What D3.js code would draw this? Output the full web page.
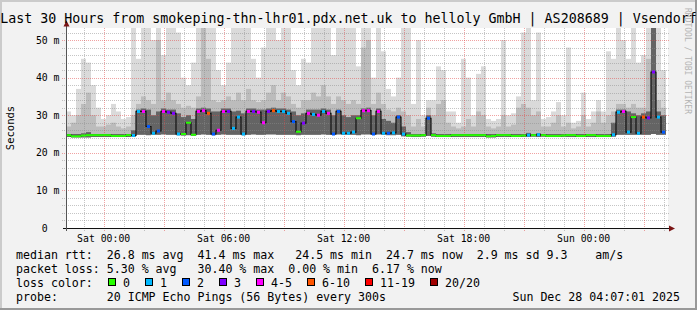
<!DOCTYPE html>
<html><head><meta charset="utf-8">
<script src="https://cdn.jsdelivr.net/npm/d3@7"></script>
<style>
html,body{margin:0;padding:0;background:#f2f2f2;}
svg{display:block;}
text{font-family:"DejaVu Sans Mono",monospace;white-space:pre;}
</style></head><body>
<svg id="c" width="697" height="310"></svg>
<script>
const title = "Last 30 Hours from smokeping-thn-lhr01.pdx.net.uk to helloly GmbH | AS208689 | Vsendorf";
const yLabel = "Seconds";
const watermark = "RRDTOOL / TOBI OETIKER";
const yTicks = [0, 10, 20, 30, 40, 50];
const yTickLabels = ["0  ", "10 m", "20 m", "30 m", "40 m", "50 m"];
const xTickLabels = ["Sat 00:00", "Sat 06:00", "Sat 12:00", "Sat 18:00", "Sun 00:00"];
const endTime = "2025-12-28T04:07:01Z";
const spanHours = 30;
const binMinutes = 15;
const yMax = 53.2;

// median rtt (ms) per 15-minute bin
const median = [
 24.7,24.4,24.4,24.6,24.7,24.7,24.7,24.7,24.7,24.5,24.5,24.5,24.7,24.6,
 31,31,27,25.2,25.8,31,30.8,30.5,25,25,
 28,24.8,31,31.2,30.5,25,26,31,31,26.5,
 29.5,25,31,31,30.8,28,31,31.2,31,31,
 30.5,28.3,25.6,27.9,30.5,30.2,30,31,30.5,25,
 31,25.2,25.2,25.5,29.2,31.2,31.2,25,31,25.2,
 25.2,25.3,29.5,25,24.6,24.6,24.6,24.7,29.2,
 24.7,24.5,24.5,24.5,24.7,24.7,24.7,24.7,24.7,24.7,
 24.7,24.4,24.5,24.7,24.7,24.7,24.5,24.5,24.6,24.7,
 24.7,24.8,24.7,24.5,24.5,24.5,24.6,24.7,24.7,24.5,
 24.5,24.7,24.7,24.5,24.5,24.5,
 24.8,30.8,31,25.5,29.5,25.2,29.5,29.3,41.5,29.5,25.5
];
// lost pings (of 20) per bin
const loss = [
 0,0,0,0,0,0,0,0,0,0,0,0,0,1,
 1,4,2,1,2,4,3,3,1,0,
 0,0,4,5,6,2,4,4,3,1,
 1,1,4,3,4,5,3,7,1,1,
 1,2,0,3,4,1,4,1,4,2,
 2,1,1,1,0,4,5,2,4,1,
 2,1,2,1,0,0,0,0,2,
 0,0,0,0,0,0,0,0,0,0,
 0,0,0,0,0,0,0,0,0,1,
 0,1,0,0,0,0,0,0,0,0,
 0,0,0,0,0,0,
 1,1,4,1,0,1,6,3,3,1,2
];
// smoke: lowest ping, upper edge of dark, mid and light bands (ms)
const smokeMin = [
 24.2,24.1,24.1,24.1,24.1,24.2,24.2,24.2,24.2,24.2,24.2,24.2,24.2,24.3,
 24.8,24.8,24.7,24.8,24.8,24.9,24.8,24.8,24.7,24.6,
 24.7,24.6,24.8,24.9,24.8,24.7,24.8,24.9,24.8,24.8,
 24.8,24.7,24.8,24.9,24.8,24.8,24.9,24.9,24.8,24.8,
 24.8,24.8,24.7,24.8,24.8,24.8,24.8,24.9,24.8,24.8,
 24.9,24.8,24.8,24.8,24.7,24.9,24.9,24.8,24.9,24.8,
 24.7,24.7,24.8,24.4,24.3,24.2,24.2,24.3,24.5,
 24.3,24.2,24.2,24.2,24.2,24.2,24.2,24.2,24.2,24.2,
 24.2,24.1,24.1,24.2,24.2,24.2,24.2,24.2,24.2,24.2,
 24.3,24.2,24.3,24.2,24.2,24.2,24.2,24.2,24.2,24.2,
 24.2,24.2,24.2,24.2,24.2,24.2,
 24.3,24.8,24.8,24.8,24.8,24.8,24.8,24.8,25,24.8,24.8
];
const smokeQ3 = [
 25,25,25,25.2,25.5,25,25,25,25,25,25,25,25,26,
 31.5,31.8,31.5,30,31,31.8,31.5,31.5,30.5,29.5,
 30,29,31.8,32,31.8,31,31,31.8,31.8,31,
 31.2,30.5,31.8,31.8,31.5,31.5,31.8,32,31.8,31.8,
 31.5,31,30,30.5,31.5,31.5,31.5,31.8,31.5,30,
 31.5,30,29.5,30,30,31.8,32,30,31.8,29,
 28.5,28,30,27,25.5,25,25,25,30,
 25.2,25,25,25,25,25,25,25,25,25,
 25,25,25,25,25,25,25,25,25,25.3,
 25,25.2,25,25,25,25,25,25,25,25,
 25,25,25,25,25,25,
 28,31.5,31.5,31,30.5,30,30.5,31,53.2,31,30
];
const smokeP90 = [
 27,28,30,33,36,30,27,27,27.5,28,27,26.5,27,30,
 33,35,34,33,50,34,36,34,33,32,
 32.5,32,35,53.2,45,34,33.5,34,35,34,
 36,34,37,34,33.5,34,36,38,34,36,
 35,33,32,34,34,36,35,38,35,33,
 35,34,33,34,33,48,50,33,36,33,
 31.5,31,32,31,30,27,29,27,32,
 30,33,34,28,27,26.5,27,29,27,31,
 30,27,26.5,27,30,27,27.5,32,33,32,
 30,31,27,27,28,30,27,28,26.5,27,
 30,27,28,31,28,30,
 31,33,33,32,33,32,32,45,53.2,34,32
];
const smokeMax = [
 31,30,37,45,44,38,32,29,30,33,31,29,29.5,53.2,
 45,53.2,53.2,50,53.2,46,53.2,53.2,52,40,
 38,44,53.2,53.2,53.2,53.2,42,38,44,53.2,
 53.2,53.2,53.2,45,40,48,53.2,53.2,50,53.2,
 53.2,42,38,45,44,53.2,53.2,53.2,53.2,46,
 53.2,53.2,53.2,53.2,43,53.2,53.2,40,53.2,47,
 37,35,40,53.2,53.2,33,50,30,34,
 34,43,42,31,31,28,45,40,30,41,
 43,29,28.5,29,50,30,30.5,35,52,53.2,
 34,52,29,29.5,31,33.5,30,48,28,28.5,
 36,29,31,34,31,47,
 45,53.2,50,45,53.2,44,46,53.2,53.2,53.2,42
];
const lossClasses = ["0", "1", "2", "3", "4-5", "6-10", "11-19", "20/20"];
const lossUpper   = [0, 1, 2, 3, 5, 10, 19, 20];
const lossColors  = ["#26ff00", "#00b8ff", "#0059ff", "#7e00ff", "#ff00ff", "#ff5500", "#ff0000", "#a00000"];
const legendRows = [
 "median rtt:  26.8 ms avg  41.4 ms max   24.5 ms min  24.7 ms now  2.9 ms sd 9.3    am/s",
 "packet loss: 5.30 % avg   30.40 % max  0.00 % min  6.17 % now",
 "loss color:",
 "probe:       20 ICMP Echo Pings (56 Bytes) every 300s"
];
const stampText = "Sun Dec 28 04:07:01 2025";

const W = 697, H = 310;
const svg = d3.select("#c");
svg.append("rect").attr("width", W).attr("height", H).attr("fill", "#f2f2f2");
svg.append("rect").attr("x", 0).attr("y", 0).attr("width", W).attr("height", 2).attr("fill", "#cbcbcb");
svg.append("rect").attr("x", 0).attr("y", 0).attr("width", 2).attr("height", H).attr("fill", "#cbcbcb");
svg.append("rect").attr("x", 0).attr("y", H - 2).attr("width", W).attr("height", 2).attr("fill", "#999");
svg.append("rect").attr("x", W - 2).attr("y", 0).attr("width", 2).attr("height", H).attr("fill", "#999");

const t1 = new Date(endTime);
const t0 = new Date(+t1 - spanHours * 3600e3);
const x = d3.scaleUtc().domain([t0, t1]).range([66, 666]);
const y = d3.scaleLinear().domain([0, yMax]).range([228, 28]);

svg.append("rect").attr("x", 66).attr("y", 28).attr("width", 602).attr("height", 200).attr("fill", "#fff");

const bins = median.map((m, i) => {
  const a = new Date(+t0 + i * binMinutes * 60e3);
  const b = new Date(+a + binMinutes * 60e3);
  return {i, a, b, med: m, loss: loss[i], mn: smokeMin[i], q3: smokeQ3[i], p90: smokeP90[i], mx: smokeMax[i]};
});

const plot = svg.append("g");
const bands = [["mx", "#dadada"], ["p90", "#bcbcbc"], ["q3", "#646464"]];
bands.forEach(([k, col]) => {
  plot.append("g").selectAll("rect").data(bins).join("rect")
    .attr("x", d => x(d.a)).attr("width", d => Math.min(x(d.b), 667) - x(d.a))
    .attr("y", d => y(d[k])).attr("height", d => Math.max(0, y(d.mn) - y(d[k])))
    .attr("fill", col);
});

// grid
const grid = svg.append("g");
const minorY = d3.range(2, yMax, 2).filter(v => v % 10 !== 0);
grid.selectAll(".hm").data(minorY).join("line")
  .attr("x1", 62).attr("x2", 669).attr("y1", d => Math.round(y(d)) + 0.5).attr("y2", d => Math.round(y(d)) + 0.5)
  .attr("stroke", "rgba(140,140,140,0.5)").attr("stroke-dasharray", "1,1");
const hours = d3.utcHour.every(1).range(t0, t1);
grid.selectAll(".vm").data(hours.filter(h => h.getUTCHours() % 3 !== 0)).join("line")
  .attr("x1", d => Math.round(x(d)) + 0.5).attr("x2", d => Math.round(x(d)) + 0.5).attr("y1", 28).attr("y2", 231)
  .attr("stroke", "rgba(140,140,140,0.5)").attr("stroke-dasharray", "1,1");
grid.selectAll(".hM").data(yTicks.filter(v => v > 0)).join("line")
  .attr("x1", 62).attr("x2", 669).attr("y1", d => Math.round(y(d)) + 0.5).attr("y2", d => Math.round(y(d)) + 0.5)
  .attr("stroke", "rgba(225,70,70,0.5)").attr("stroke-dasharray", "1,1");
grid.selectAll(".vM").data(hours.filter(h => h.getUTCHours() % 3 === 0)).join("line")
  .attr("x1", d => Math.round(x(d)) + 0.5).attr("x2", d => Math.round(x(d)) + 0.5).attr("y1", 28).attr("y2", 231)
  .attr("stroke", "rgba(225,70,70,0.5)").attr("stroke-dasharray", "1,1");

// median trace
const pts = bins.map(d => [x(d.a), y(d.med)]);
pts.push([Math.min(x(bins[bins.length - 1].b), 664), y(bins[bins.length - 1].med)]);
svg.append("path").attr("d", d3.line().curve(d3.curveStepAfter)(pts))
  .attr("fill", "none").attr("stroke", "#111").attr("stroke-width", 1.2);

const cls = l => lossUpper.findIndex(u => l <= u);
svg.append("g").selectAll("rect").data(bins).join("rect")
  .attr("x", d => d.loss === 0 ? x(d.a) : (x(d.a) + x(d.b)) / 2 - 1.5)
  .attr("width", d => d.loss === 0 ? Math.min(x(d.b), 664) - x(d.a) : 3)
  .attr("y", d => y(d.med) - (d.loss === 0 ? 1 : 1.5))
  .attr("height", d => d.loss === 0 ? 2 : 3)
  .attr("fill", d => lossColors[cls(d.loss)]);

// axes
svg.append("line").attr("x1", 63).attr("x2", 670).attr("y1", 228.5).attr("y2", 228.5).attr("stroke", "#111");
svg.append("line").attr("x1", 66.5).attr("x2", 66.5).attr("y1", 231).attr("y2", 24).attr("stroke", "#555");
svg.append("path").attr("d", "M669,225.5L675,228.5L669,231.5Z").attr("fill", "#7a1414");
svg.append("path").attr("d", "M63.5,26.5L66.5,20.5L69.5,26.5Z").attr("fill", "#7a1414");

svg.append("g").selectAll("text").data(yTicks).join("text")
  .attr("x", 59.5).attr("y", d => y(d) + 3.5).attr("text-anchor", "end")
  .attr("font-size", 9.8).attr("fill", "#000").text((d, i) => yTickLabels[i]);
const xt = d3.utcHour.every(6).range(t0, t1);
svg.append("g").selectAll("text").data(xt).join("text")
  .attr("x", d => x(d)).attr("y", 241.5).attr("text-anchor", "middle")
  .attr("font-size", 9.8).attr("fill", "#000").text((d, i) => xTickLabels[i]);

svg.append("text").attr("x", 348.5).attr("y", 23).attr("text-anchor", "middle")
  .attr("font-size", 13.3).attr("fill", "#000").text(title);
svg.append("text").attr("transform", "translate(14,128) rotate(-90)").attr("text-anchor", "middle")
  .attr("font-size", 10.5).attr("fill", "#000").text(yLabel);
svg.append("text").attr("transform", "translate(685,8) rotate(90)")
  .attr("font-size", 8).attr("fill", "#b4b4b4").text(watermark);

// legend
const rowY = [258.5, 272.7, 286.9, 301.1];
svg.append("g").selectAll("text").data(legendRows).join("text")
  .attr("x", 16).attr("y", (d, i) => rowY[i]).attr("font-size", 11.6).attr("fill", "#000").text(d => d);
svg.append("text").attr("x", 680).attr("y", rowY[3]).attr("text-anchor", "end")
  .attr("font-size", 11.6).attr("fill", "#000").text(stampText);
let lx = 108;
const items = lossClasses.map((c, i) => { const o = {c, col: lossColors[i], bx: lx}; lx += 15 + c.length * 7 + 15; return o; });
const lg = svg.append("g");
lg.selectAll("rect").data(items).join("rect")
  .attr("x", d => d.bx + 0.5).attr("y", 278.5).attr("width", 7).attr("height", 7)
  .attr("fill", d => d.col).attr("stroke", "#000");
lg.selectAll("text").data(items).join("text")
  .attr("x", d => d.bx + 15).attr("y", rowY[2]).attr("font-size", 11.6).attr("fill", "#000").text(d => d.c);
</script>
</body></html>
